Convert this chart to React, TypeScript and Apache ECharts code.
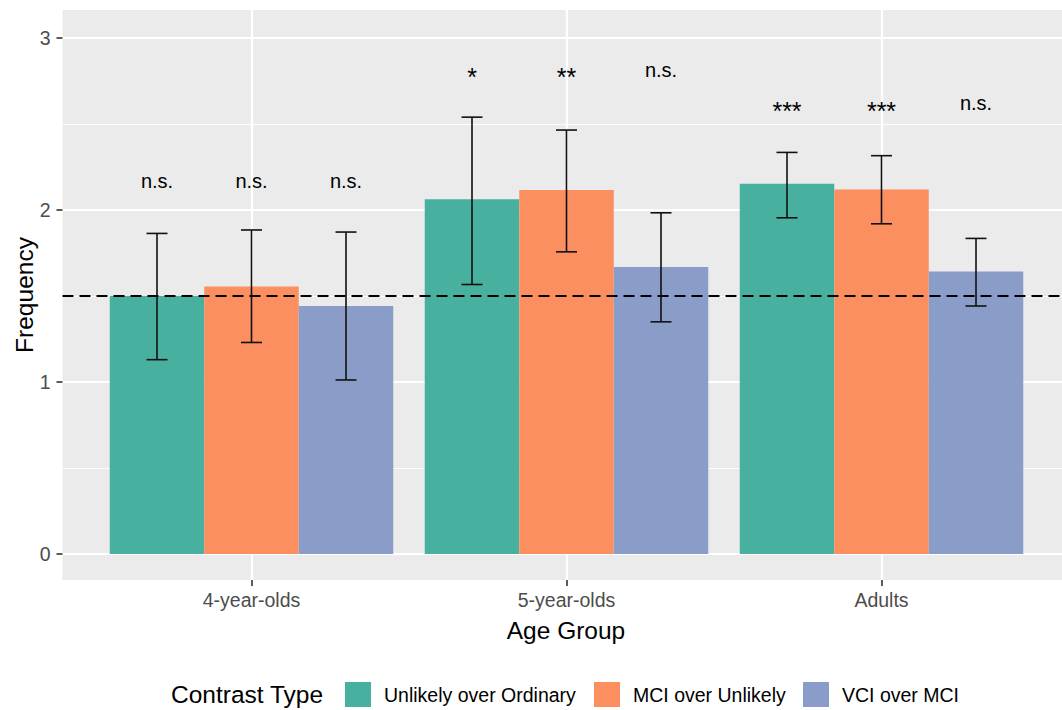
import React, { useEffect, useRef } from 'react';
import * as echarts from 'echarts';

const categories = ['4-year-olds', '5-year-olds', 'Adults'];
const contrastTypes = ['Unlikely over Ordinary', 'MCI over Unlikely', 'VCI over MCI'];

const unlikelyOverOrdinary = [1.5, 2.062, 2.153];
const mciOverUnlikely = [1.556, 2.116, 2.12];
const vciOverMci = [1.442, 1.669, 1.642];

const unlikelyOverOrdinaryLow = [1.13, 1.567, 1.955];
const unlikelyOverOrdinaryHigh = [1.864, 2.54, 2.335];
const mciOverUnlikelyLow = [1.23, 1.757, 1.92];
const mciOverUnlikelyHigh = [1.884, 2.465, 2.316];
const vciOverMciLow = [1.012, 1.35, 1.442];
const vciOverMciHigh = [1.872, 1.984, 1.835];

const unlikelyOverOrdinarySig = ['n.s.', '*', '***'];
const mciOverUnlikelySig = ['n.s.', '**', '***'];
const vciOverMciSig = ['n.s.', 'n.s.', 'n.s.'];
const sigLabelY = [2.17, 2.815, 2.62];

const chanceLevel = 1.5;
const yTicks = [0, 1, 2, 3];
const yMinorTicks = [0.5, 1.5, 2.5];
const xTicks = [0, 1, 2];

const colors = ['#48B09F', '#FC8F60', '#8A9DC8'];
const FONT = '"Liberation Sans", Arial, sans-serif';

const groups = [
  { name: contrastTypes[0], values: unlikelyOverOrdinary, low: unlikelyOverOrdinaryLow, high: unlikelyOverOrdinaryHigh, sig: unlikelyOverOrdinarySig },
  { name: contrastTypes[1], values: mciOverUnlikely, low: mciOverUnlikelyLow, high: mciOverUnlikelyHigh, sig: mciOverUnlikelySig },
  { name: contrastTypes[2], values: vciOverMci, low: vciOverMciLow, high: vciOverMciHigh, sig: vciOverMciSig },
];

const DODGE = 0.3;
const CAP = 0.0667;

export default function App() {
  const ref = useRef<HTMLDivElement>(null);
  useEffect(() => {
    if (!ref.current) return;
    const chart = echarts.init(ref.current, null, { renderer: 'svg' });
    const series: any[] = [];
    series.push({
      type: 'line',
      name: '__minor',
      data: [],
      z: 1,
      markLine: {
        silent: true,
        z: 1,
        symbol: 'none',
        label: { show: false },
        lineStyle: { color: '#FFFFFF', width: 1, type: 'solid' },
        data: yMinorTicks.map((v) => ({ yAxis: v })),
      },
    });
    groups.forEach((g, s) => {
      series.push({
        type: 'custom',
        name: g.name,
        coordinateSystem: 'cartesian2d',
        itemStyle: { color: colors[s] },
        z: 2,
        encode: { x: 0, y: 1 },
        data: g.values.map((v, i) => [i, v]),
        renderItem: (params: any, api: any) => {
          const i = api.value(0);
          const v = api.value(1);
          const c = i + (s - 1) * DODGE;
          const a = api.coord([c - DODGE / 2, 0]);
          const b = api.coord([c + DODGE / 2, v]);
          return {
            type: 'rect',
            shape: { x: a[0], y: b[1], width: b[0] - a[0], height: a[1] - b[1] },
            style: { fill: colors[s] },
          };
        },
      });
    });
    series.push({
      type: 'line',
      name: '__chance',
      data: [],
      z: 3,
      markLine: {
        silent: true,
        z: 3,
        symbol: 'none',
        label: { show: false },
        lineStyle: { color: '#000000', width: 2.2, type: [11, 6] },
        data: [{ yAxis: chanceLevel }],
      },
    });
    groups.forEach((g, s) => {
      series.push({
        type: 'custom',
        name: g.name + ' CI',
        coordinateSystem: 'cartesian2d',
        z: 4,
        encode: { x: 0, y: [1, 2] },
        data: g.values.map((_, i) => [i, g.low[i], g.high[i], sigLabelY[i]]),
        renderItem: (params: any, api: any) => {
          const i = api.value(0);
          const lo = api.value(1);
          const hi = api.value(2);
          const ly = api.value(3);
          const c = i + (s - 1) * DODGE;
          const pLo = api.coord([c, lo]);
          const pHi = api.coord([c, hi]);
          const l = api.coord([c - CAP / 2, lo]);
          const r = api.coord([c + CAP / 2, hi]);
          const t = api.coord([c, ly]);
          const st = { stroke: '#111111', lineWidth: 1.6 };
          const label = g.sig[i];
          const isStar = label.indexOf('*') >= 0;
          return {
            type: 'group',
            children: [
              { type: 'line', shape: { x1: pLo[0], y1: pLo[1], x2: pHi[0], y2: pHi[1] }, style: st },
              { type: 'line', shape: { x1: l[0], y1: pLo[1], x2: r[0], y2: pLo[1] }, style: st },
              { type: 'line', shape: { x1: l[0], y1: pHi[1], x2: r[0], y2: pHi[1] }, style: st },
              {
                type: 'text',
                x: t[0],
                y: t[1] + (isStar ? 7.5 : 0),
                style: {
                  text: label,
                  fill: '#000000',
                  font: `${isStar ? 25 : 20}px ${FONT}`,
                  align: 'center',
                  verticalAlign: 'middle',
                },
              },
            ],
          };
        },
      });
    });

    const legendLefts = [345, 594, 803];
    const option: any = {
      animation: false,
      backgroundColor: '#FFFFFF',
      textStyle: { fontFamily: FONT },
      grid: {
        left: 62.5,
        top: 10,
        right: 0,
        height: 570,
        show: true,
        backgroundColor: '#EBEBEB',
        borderWidth: 0,
        containLabel: false,
      },
      xAxis: {
        type: 'value',
        min: -0.6,
        max: 2.573,
        axisLine: { show: false, onZero: false },
        axisTick: { show: true, length: 6, lineStyle: { color: '#333333', width: 1.6 }, customValues: xTicks },
        axisLabel: {
          customValues: xTicks,
          formatter: (v: number) => categories[Math.round(v)],
          color: '#4D4D4D',
          fontSize: 19.5,
          fontFamily: FONT,
          margin: 10,
        },
        splitLine: { show: true, lineStyle: { color: '#FFFFFF', width: 2.2 } },
      },
      yAxis: {
        type: 'value',
        min: -0.151,
        max: 3.163,
        axisLine: { show: false, onZero: false },
        axisTick: { show: true, length: 6, lineStyle: { color: '#333333', width: 1.6 }, customValues: yTicks },
        axisLabel: {
          customValues: yTicks,
          color: '#4D4D4D',
          fontSize: 19.5,
          fontFamily: FONT,
          margin: 12,
        },
        splitLine: { show: true, lineStyle: { color: '#FFFFFF', width: 2.2 } },
      },
      legend: contrastTypes.map((name, k) => ({
        data: [name],
        left: legendLefts[k],
        top: 682,
        padding: 0,
        itemWidth: 26,
        itemHeight: 25,
        icon: 'rect',
        selectedMode: false,
        textStyle: { fontSize: 19.5, color: '#000000', fontFamily: FONT, padding: [0, 0, 0, 8] },
      })),
      graphic: [
        {
          type: 'text',
          x: 24.5,
          y: 295,
          rotation: Math.PI / 2,
          style: { text: 'Frequency', font: `24.5px ${FONT}`, fill: '#000000', align: 'center', verticalAlign: 'middle' },
        },
        {
          type: 'text',
          x: 566,
          y: 630,
          style: { text: 'Age Group', font: `24.5px ${FONT}`, fill: '#000000', align: 'center', verticalAlign: 'middle' },
        },
        {
          type: 'text',
          x: 171,
          y: 694.5,
          style: { text: 'Contrast Type', font: `24.5px ${FONT}`, fill: '#000000', align: 'left', verticalAlign: 'middle' },
        },
      ],
      series,
    };
    chart.setOption(option);
    return () => chart.dispose();
  }, []);
  return <div ref={ref} style={{ position: 'fixed', left: 0, top: 0, width: 1062, height: 710 }} />;
}
